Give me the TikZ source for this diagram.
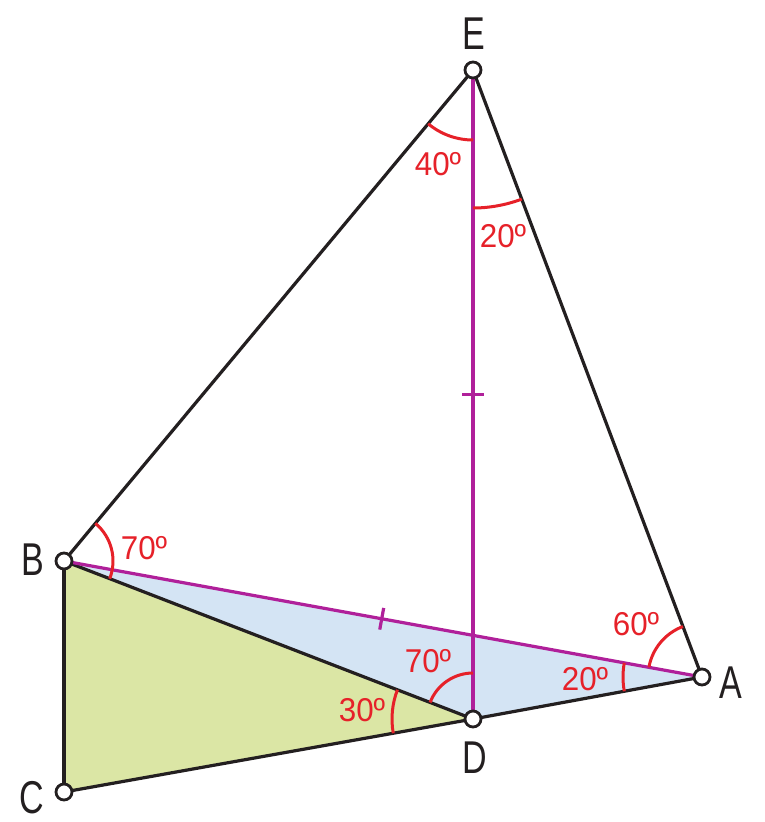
\documentclass[tikz,border=0pt]{standalone}
\usepackage{fontspec}
\setmainfont[FakeStretch=0.74]{Liberation Sans}
\newfontfamily\anglefont[FakeStretch=0.95]{Liberation Sans}
\usetikzlibrary{angles,calc}
\definecolor{fgreen}{HTML}{DBE6A5}
\definecolor{fblue}{HTML}{D4E4F4}
\definecolor{mag}{HTML}{B0209A}
\definecolor{ared}{HTML}{E62129}
\definecolor{ink}{HTML}{231F20}
\begin{document}
\begin{tikzpicture}[x=1pt,y=-1pt,
  edge/.style={draw=ink,line width=3.2pt},
  medge/.style={draw=mag,line width=3.2pt},
  vtx/.style={circle,draw=ink,fill=white,line width=2.8pt,minimum size=16pt,inner sep=0pt},
  lbl/.style={text=ink,inner sep=0pt,font=\fontsize{46}{46}\selectfont},
  albl/.style={text=ared,inner sep=0pt,font=\anglefont\fontsize{33}{33}\selectfont},
  arc/.style={draw=ared,line width=3pt},
  tick/.style={draw=mag,line width=3.2pt}]
\useasboundingbox (0,0) rectangle (764,822);
\coordinate (E) at (473,70);
\coordinate (B) at (64,561);
\coordinate (C) at (64,792);
\coordinate (D) at (473,719);
\coordinate (A) at (702,677);
% fills
\fill[fgreen] (B) -- (C) -- (D) -- cycle;
\fill[fblue] (B) -- (D) -- (A) -- cycle;
% edges
\draw[edge] (E) -- (B);
\draw[edge] (E) -- (A);
\draw[edge] (B) -- (C);
\draw[edge] (C) -- (D);
\draw[edge] (B) -- (D);
\draw[edge] (D) -- (A);
\draw[medge] (E) -- (D);
\draw[medge] (B) -- (A);
% ticks
\coordinate (t1) at ($(E)!0.5!(D)$);
\draw[tick] ($(t1)+(-11,0)$) -- ($(t1)+(11,0)$);
\coordinate (t2) at ($(B)!0.498!(A)$);
\draw[tick] ($(t2)!11pt!90:(A)$) -- ($(t2)!11pt!-90:(A)$);
% angle arcs
\pic[arc,angle radius=70pt]{angle=B--E--D};
\pic[arc,angle radius=138pt]{angle=D--E--A};
\pic[arc,angle radius=49pt]{angle=D--B--E};
\pic[arc,angle radius=46pt]{angle=E--D--B};
\pic[arc,angle radius=81pt]{angle=B--D--C};
\pic[arc,angle radius=79pt]{angle=B--A--D};
\pic[arc,angle radius=54pt]{angle=E--A--B};
% angle labels
\node[albl] (a1) at (438,164) {40º};
\node[albl] (a2) at (503,236) {20º};
\node[albl] (a3) at (144,548) {70º};
\node[albl] (a4) at (428,661) {70º};
\node[albl] (a5) at (362,710) {30º};
\node[albl] (a6) at (585,679) {20º};
\node[albl] (a7) at (636,624) {60º};
% vertices
\node[vtx] (vE) at (E) {};
\node[vtx] (vB) at (B) {};
\node[vtx] (vC) at (C) {};
\node[vtx] (vD) at (D) {};
\node[vtx] (vA) at (A) {};
% vertex labels
\node[lbl] (lE) at (474,34) {E};
\node[lbl] (lB) at (33,560) {B};
\node[lbl] (lC) at (32,798) {C};
\node[lbl] (lD) at (475,758) {D};
\node[lbl] (lA) at (731,683) {A};
\end{tikzpicture}
\end{document}
